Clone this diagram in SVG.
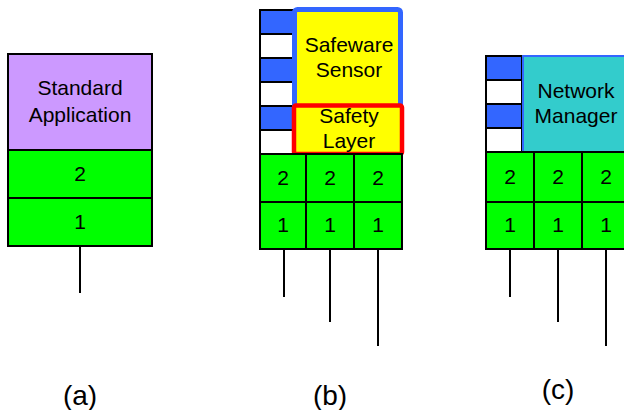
<svg xmlns="http://www.w3.org/2000/svg" width="624" height="410" viewBox="0 0 624 410">
<style>
.t{font-family:"Liberation Sans",Arial,sans-serif;font-size:21px;fill:#000;text-anchor:middle}
.lbl{font-family:"Liberation Sans",Arial,sans-serif;font-size:28px;fill:#000;text-anchor:middle}
.g{fill:#00FF00;stroke:#000;stroke-width:2}
.b{fill:#3366FF;stroke:#000;stroke-width:2}
.w{fill:#FFFFFF;stroke:#000;stroke-width:2}
.ln{stroke:#000;stroke-width:2;fill:none}
</style>
<rect width="624" height="410" fill="#FFFFFF"/>
<g id="stack-a">
<rect x="8" y="54" width="144" height="96" fill="#CC99FF" stroke="#000" stroke-width="2"/>
<text class="t" x="80" y="95">Standard</text>
<text class="t" x="80" y="122">Application</text>
<rect class="g" x="8" y="150" width="144" height="48"/>
<text class="t" x="80" y="181">2</text>
<rect class="g" x="8" y="198" width="144" height="48"/>
<text class="t" x="80" y="229">1</text>
</g>
<g id="stack-b">
<rect class="b" x="260" y="10" width="34" height="24"/>
<rect class="w" x="260" y="34" width="34" height="24"/>
<rect class="b" x="260" y="58" width="34" height="24"/>
<rect class="w" x="260" y="82" width="34" height="24"/>
<rect class="b" x="260" y="106" width="34" height="24"/>
<rect class="w" x="260" y="130" width="34" height="24"/>
<rect x="294.5" y="9.5" width="106" height="98" rx="3" fill="#FFFF00" stroke="#3366FF" stroke-width="5"/>
<text class="t" x="349" y="52">Safeware</text>
<text class="t" x="349" y="77">Sensor</text>
<rect x="294" y="105.5" width="108" height="48.5" rx="2" fill="#FFFF00" stroke="#FF0000" stroke-width="4.5"/>
<text class="t" x="349" y="123">Safety</text>
<text class="t" x="349" y="148">Layer</text>
<rect class="g" x="260" y="154" width="46" height="48"/>
<rect class="g" x="306" y="154" width="48" height="48"/>
<rect class="g" x="354" y="154" width="48" height="48"/>
<rect class="g" x="260" y="202" width="46" height="47"/>
<rect class="g" x="306" y="202" width="48" height="47"/>
<rect class="g" x="354" y="202" width="48" height="47"/>
<text class="t" x="283" y="185">2</text>
<text class="t" x="330" y="185">2</text>
<text class="t" x="378" y="185">2</text>
<text class="t" x="283" y="232">1</text>
<text class="t" x="330" y="232">1</text>
<text class="t" x="378" y="232">1</text>
</g>
<g id="stack-c">
<rect class="b" x="486" y="56" width="36" height="24"/>
<rect class="w" x="486" y="80" width="36" height="24"/>
<rect class="b" x="486" y="104" width="36" height="24"/>
<rect class="w" x="486" y="128" width="36" height="24"/>
<rect x="523" y="56" width="110" height="96" fill="#33CCCC" stroke="#3366FF" stroke-width="2"/>
<text class="t" x="576" y="98">Network</text>
<text class="t" x="576" y="123">Manager</text>
<rect class="g" x="486" y="152" width="48" height="50"/>
<rect class="g" x="534" y="152" width="48" height="50"/>
<rect class="g" x="582" y="152" width="48" height="50"/>
<rect class="g" x="486" y="202" width="48" height="47"/>
<rect class="g" x="534" y="202" width="48" height="47"/>
<rect class="g" x="582" y="202" width="48" height="47"/>
<text class="t" x="510" y="184">2</text>
<text class="t" x="558" y="184">2</text>
<text class="t" x="606" y="184">2</text>
<text class="t" x="510" y="232">1</text>
<text class="t" x="558" y="232">1</text>
<text class="t" x="606" y="232">1</text>
</g>
<g id="connectors">
<line class="ln" x1="80" y1="246" x2="80" y2="293"/>
<line class="ln" x1="284" y1="249" x2="284" y2="297"/>
<line class="ln" x1="330" y1="249" x2="330" y2="322"/>
<line class="ln" x1="378" y1="249" x2="378" y2="346"/>
<line class="ln" x1="510" y1="249" x2="510" y2="297"/>
<line class="ln" x1="558" y1="249" x2="558" y2="322"/>
<line class="ln" x1="606" y1="249" x2="606" y2="346"/>
</g>
<g id="labels">
<text class="lbl" x="80" y="405">(a)</text>
<text class="lbl" x="330" y="405">(b)</text>
<text class="lbl" x="558" y="399">(c)</text>
</g>
</svg>
